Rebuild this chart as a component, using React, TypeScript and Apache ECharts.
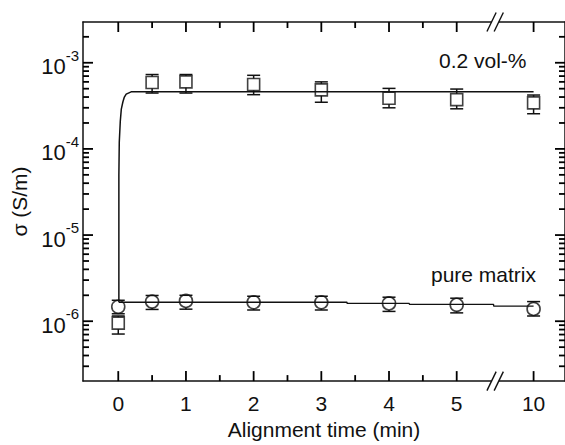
import React, { useEffect, useRef } from "react";
import * as echarts from "echarts";

// ---- data (time in min, conductivity in S/m) ----
const times = [0, 0.5, 1, 2, 3, 4, 5, 10];
const volSigma = [9.5e-7, 5.9e-4, 6.0e-4, 5.6e-4, 4.85e-4, 3.87e-4, 3.73e-4, 3.42e-4];
const volLow = [7.1e-7, 4.45e-4, 4.45e-4, 4.26e-4, 3.48e-4, 3.0e-4, 2.92e-4, 2.56e-4];
const volHigh = [1.15e-6, 7.3e-4, 7.3e-4, 7.15e-4, 6.0e-4, 5.04e-4, 4.95e-4, 4.22e-4];
const pureSigma = [1.47e-6, 1.69e-6, 1.72e-6, 1.66e-6, 1.66e-6, 1.61e-6, 1.55e-6, 1.39e-6];
const pureLow = [1.22e-6, 1.37e-6, 1.38e-6, 1.35e-6, 1.35e-6, 1.3e-6, 1.25e-6, 1.15e-6];
const pureHigh = [1.75e-6, 1.99e-6, 2.0e-6, 1.95e-6, 1.95e-6, 1.9e-6, 1.85e-6, 1.69e-6];
const volFitT = [0.009, 0.009, 0.015, 0.03, 0.045, 0.068, 0.09, 0.117, 0.19, 10];
const volFitSigma = [1.66e-6, 5e-5, 1.2e-4, 2.1e-4, 2.9e-4, 3.5e-4, 4.0e-4, 4.33e-4, 4.6e-4, 4.6e-4];
const pureFitT = [0.009, 3.38, 3.38, 4.3, 4.3, 7.4, 7.4, 10];
const pureFitSigma = [1.66e-6, 1.66e-6, 1.61e-6, 1.61e-6, 1.57e-6, 1.57e-6, 1.5e-6, 1.5e-6];
const xTickTimes = [0, 1, 2, 3, 4, 5, 10];
const xMinorTimes = [0.5, 1.5, 2.5, 3.5, 4.5];
const yDecades = [-6, -5, -4, -3];
const breakTime = 7.5;
const seriesNames = ["0.2 vol-%", "pure matrix"];

// axis break: 5..10 min is compressed
const pos = (t: number) => (t <= 5 ? t : 5 + (t - 5) * (1.136 / 5));
const lg = (v: number) => Math.log10(v);

const X_MIN = -0.521;
const X_MAX = 6.6;
const Y_MIN = -6.695;
const Y_MAX = -2.527;

const FONT = "'Liberation Sans', Arial, Helvetica, sans-serif";
const INK = "#111";

export default function App() {
  const ref = useRef<HTMLDivElement>(null);
  useEffect(() => {
    const chart = echarts.init(ref.current!, null, { renderer: "svg" });

    const minorY: number[] = [];
    for (let n = -7; n <= -3; n++) {
      for (let k = 2; k <= 9; k++) {
        const v = Math.log10(k) + n;
        if (v > Y_MIN && v < Y_MAX) minorY.push(v);
      }
    }
    const majorX = xTickTimes.map(pos);
    // [x, y, length, side]
    const xTickData: number[][] = [];
    majorX.forEach((v) => { xTickData.push([v, Y_MIN, 10, 0]); xTickData.push([v, Y_MAX, 10, 1]); });
    xMinorTimes.forEach((t) => { xTickData.push([pos(t), Y_MIN, 6, 0]); xTickData.push([pos(t), Y_MAX, 6, 1]); });
    const yTickData: number[][] = [];
    yDecades.forEach((v) => { yTickData.push([X_MIN, v, 10, 0]); yTickData.push([X_MAX, v, 10, 1]); });
    minorY.forEach((v) => { yTickData.push([X_MIN, v, 6, 0]); yTickData.push([X_MAX, v, 6, 1]); });

    const axisLine = { show: true, onZero: false, lineStyle: { color: INK, width: 1.5 } };
    const baseX = {
      type: "value",
      min: X_MIN,
      max: X_MAX,
      splitLine: { show: false },
      axisTick: { show: false },
      axisLabel: { show: false },
    };
    const baseY = {
      type: "value",
      min: Y_MIN,
      max: Y_MAX,
      splitLine: { show: false },
      axisTick: { show: false },
      axisLabel: { show: false },
    };

    const xTickRender = (params: any, api: any) => {
      const p = api.coord([api.value(0), api.value(1)]);
      const len = api.value(2);
      const dir = api.value(3) === 0 ? -1 : 1;
      return {
        type: "line",
        shape: { x1: p[0], y1: p[1], x2: p[0], y2: p[1] + dir * len },
        style: { stroke: "#000", lineWidth: 1.8, fill: null },
      };
    };
    const yTickRender = (params: any, api: any) => {
      const p = api.coord([api.value(0), api.value(1)]);
      const len = api.value(2);
      const dir = api.value(3) === 0 ? 1 : -1;
      return {
        type: "line",
        shape: { x1: p[0], y1: p[1], x2: p[0] + dir * len, y2: p[1] },
        style: { stroke: "#000", lineWidth: 1.8, fill: null },
      };
    };

    const errRender = (half: number, r: number) => (params: any, api: any) => {
      const x = api.value(0);
      const lo = api.coord([x, api.value(1)]);
      const hi = api.coord([x, api.value(2)]);
      const c = api.coord([x, api.value(3)]);
      const style = { stroke: INK, lineWidth: 1.5, fill: null };
      const children: any[] = [
        { type: "line", shape: { x1: c[0] - half, y1: hi[1], x2: c[0] + half, y2: hi[1] }, style },
        { type: "line", shape: { x1: c[0] - half, y1: lo[1], x2: c[0] + half, y2: lo[1] }, style },
      ];
      if (hi[1] < c[1] - r)
        children.push({ type: "line", shape: { x1: c[0], y1: hi[1], x2: c[0], y2: c[1] - r }, style });
      if (lo[1] > c[1] + r)
        children.push({ type: "line", shape: { x1: c[0], y1: c[1] + r, x2: c[0], y2: lo[1] }, style });
      return { type: "group", children };
    };

    const breakRender = (params: any, api: any) => {
      const p = api.coord([api.value(0), api.value(1)]);
      const gx = 3.6;
      const dx = 4.6;
      const dy = 9.5;
      const style = { stroke: INK, lineWidth: 1.4, fill: null };
      return {
        type: "group",
        children: [
          { type: "rect", shape: { x: p[0] - gx, y: p[1] - 2.5, width: 2 * gx, height: 5 }, style: { fill: "#fff" } },
          { type: "line", shape: { x1: p[0] - gx - dx, y1: p[1] + dy, x2: p[0] - gx + dx, y2: p[1] - dy }, style },
          { type: "line", shape: { x1: p[0] + gx - dx, y1: p[1] + dy, x2: p[0] + gx + dx, y2: p[1] - dy }, style },
        ],
      };
    };

    const option: any = {
      animation: false,
      backgroundColor: "#fff",
      textStyle: { fontFamily: FONT, color: INK },
      grid: { left: 83, right: -6, top: 22, bottom: 59, containLabel: false },
      xAxis: [
        {
          ...baseX,
          position: "bottom",
          axisLine,
          axisLabel: {
            show: true,
            customValues: majorX,
            margin: 12,
            fontSize: 21,
            fontFamily: FONT,
            color: INK,
            formatter: (v: number) => {
              const i = majorX.findIndex((m) => Math.abs(m - v) < 1e-6);
              return i >= 0 ? String(xTickTimes[i]) : "";
            },
          },
          name: "Alignment time (min)",
          nameLocation: "middle",
          nameGap: 37,
          nameTextStyle: { fontSize: 21, fontFamily: FONT, color: INK },
        },
        { ...baseX, position: "top", axisLine },
      ],
      yAxis: [
        {
          ...baseY,
          position: "left",
          axisLine,
          axisLabel: {
            show: true,
            customValues: yDecades,
            margin: 4,
            formatter: (v: number) => `{b|10}{s|${Math.round(v)}}`,
            rich: {
              b: { fontSize: 22, fontFamily: FONT, color: INK, lineHeight: 30, verticalAlign: "bottom" },
              s: { fontSize: 15, fontFamily: FONT, color: INK, lineHeight: 16, verticalAlign: "top" },
            },
          },
          name: "σ (S/m)",
          nameLocation: "middle",
          nameGap: 48,
          nameTextStyle: { fontSize: 21, fontFamily: FONT, color: INK },
        },
        { ...baseY, position: "right", axisLine },
      ],
      graphic: [
        {
          type: "text",
          left: 439,
          top: 50,
          style: { text: seriesNames[0], fontSize: 21, fontFamily: FONT, fill: INK },
        },
        {
          type: "text",
          left: 431,
          top: 264,
          style: { text: seriesNames[1], fontSize: 21, fontFamily: FONT, fill: INK },
        },
      ],
      series: [
        {
          type: "custom",
          name: "x ticks",
          data: xTickData,
          renderItem: xTickRender,
          clip: false,
          z: 8,
        },
        {
          type: "custom",
          name: "y ticks",
          data: yTickData,
          renderItem: yTickRender,
          clip: false,
          z: 8,
        },
        {
          type: "line",
          name: seriesNames[0] + " fit",
          data: volFitT.map((t, i) => [pos(t), lg(volFitSigma[i])]),
          showSymbol: false,
          symbol: "none",
          lineStyle: { color: INK, width: 1.5 },
          z: 3,
        },
        {
          type: "line",
          name: seriesNames[1] + " fit",
          data: pureFitT.map((t, i) => [pos(t), lg(pureFitSigma[i])]),
          showSymbol: false,
          symbol: "none",
          lineStyle: { color: INK, width: 1.3 },
          z: 3,
        },
        {
          type: "scatter",
          name: seriesNames[0],
          data: times.map((t, i) => [pos(t), lg(volSigma[i])]),
          symbol: "rect",
          symbolSize: 12,
          itemStyle: { color: "rgba(0,0,0,0)", borderColor: INK, borderWidth: 1.6 },
          z: 4,
        },
        {
          type: "scatter",
          name: seriesNames[1],
          data: times.map((t, i) => [pos(t), lg(pureSigma[i])]),
          symbol: "circle",
          symbolSize: 13,
          itemStyle: { color: "rgba(0,0,0,0)", borderColor: INK, borderWidth: 1.6 },
          z: 4,
        },
        {
          type: "custom",
          name: seriesNames[0] + " err",
          data: times.map((t, i) => [pos(t), lg(volLow[i]), lg(volHigh[i]), lg(volSigma[i])]),
          renderItem: errRender(6.5, 6),
          clip: false,
          z: 4,
        },
        {
          type: "custom",
          name: seriesNames[1] + " err",
          data: times.map((t, i) => [pos(t), lg(pureLow[i]), lg(pureHigh[i]), lg(pureSigma[i])]),
          renderItem: errRender(6.5, 6.5),
          clip: false,
          z: 4,
        },
        {
          type: "custom",
          name: "break",
          data: [
            [pos(breakTime), Y_MAX],
            [pos(breakTime), Y_MIN],
          ],
          renderItem: breakRender,
          clip: false,
          z: 10,
        },
      ],
    };
    chart.setOption(option);
    return () => chart.dispose();
  }, []);
  return (
    <div
      ref={ref}
      style={{ position: "fixed", left: 0, top: 0, width: 565, height: 445, background: "#fff" }}
    />
  );
}
